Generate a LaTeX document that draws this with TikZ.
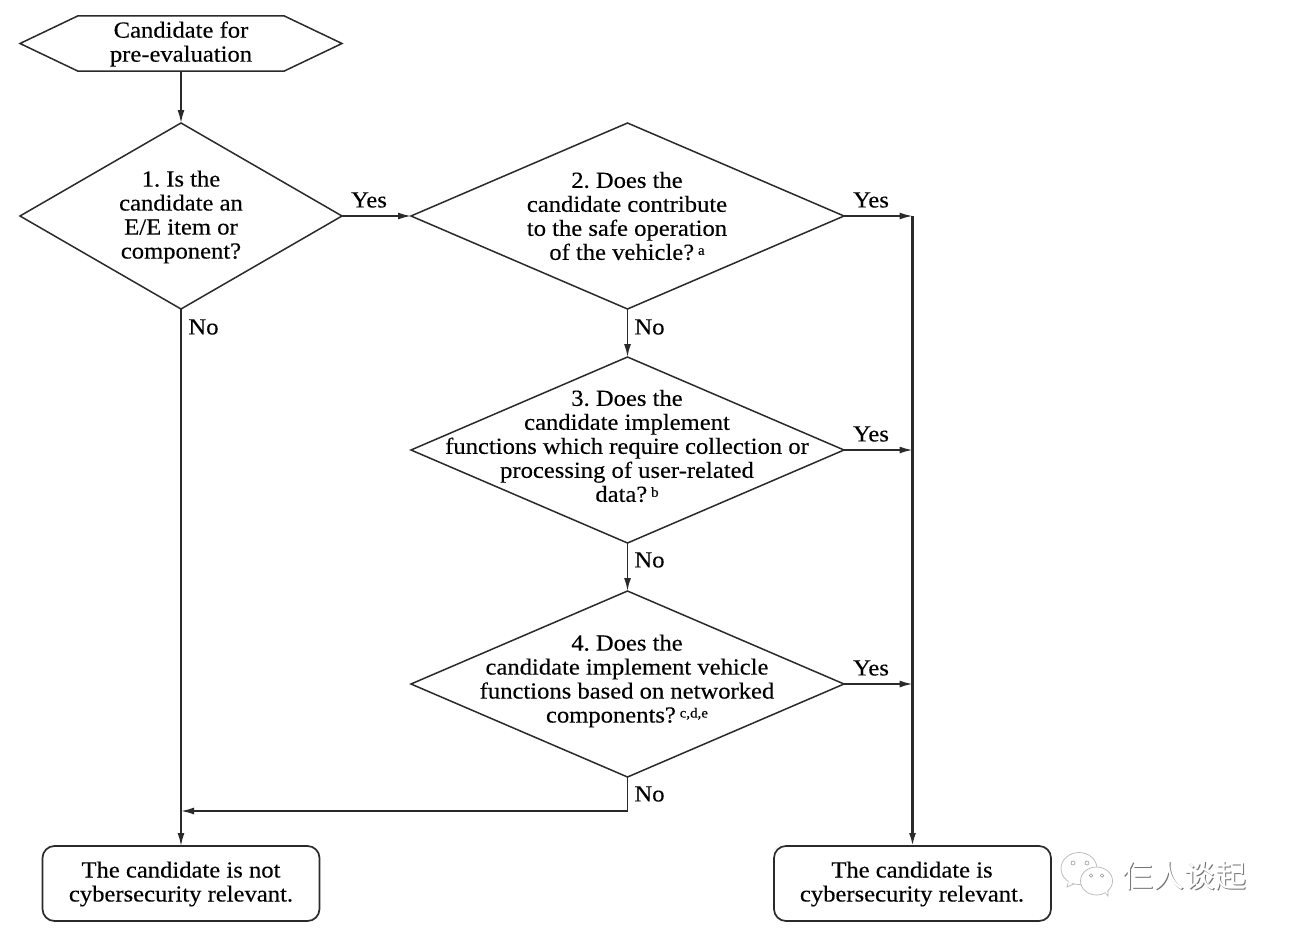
\documentclass[tikz,border=0pt]{standalone}
\usepackage{fontspec}
\setmainfont[FakeStretch=1.07,FakeBold=0.25]{Liberation Serif}
\newfontfamily\cjk{Noto Sans CJK SC}
\usetikzlibrary{shapes.geometric,shapes.symbols,arrows.meta}
\definecolor{ink}{HTML}{2A2A2A}
\frenchspacing
\tikzset{
  x=1pt,y=-1pt,
  every node/.style={inner sep=0pt,outer sep=0pt},
  dia/.style={draw=ink,line width=1.5pt,shape=diamond,minimum width=#1,minimum height=186pt,aspect=2},
  term/.style={draw=ink,line width=1.7pt,rounded corners=12pt,minimum width=277pt,minimum height=75pt},
  hexa/.style={draw=ink,line width=1.5pt,shape=signal,signal to=east and west,signal pointer angle=51,minimum width=322pt,minimum height=55pt},
  txt/.style={align=center,text=black,font=\frenchspacing\fontsize{23}{24}\selectfont},
  lab/.style={text=black,font=\fontsize{23}{24}\selectfont},
  flow/.style={draw=ink,line width=1.6pt,-{Latex[length=13pt,width=7pt]}},
  plain/.style={draw=ink,line width=1.6pt},
  trunk/.style={draw=ink,line width=2.1pt,-{Latex[length=13pt,width=7pt]}},
  bubble/.style={draw=black!28,line width=.7pt,fill=white},
  eye/.style={draw=black!40,line width=.6pt,fill=white},
}
\newcommand{\fn}[1]{\raisebox{5pt}{\fontsize{14}{14}\selectfont #1}}
\begin{document}
\begin{tikzpicture}
\useasboundingbox (0,0) rectangle (1289,934);
\fill[white] (0,0) rectangle (1289,934);

% process boxes and decisions
\node[hexa] (start) at (181,43.5) {};
\node[dia=322pt] (d1) at (181,216) {};
\node[dia=433pt] (d2) at (627.5,216) {};
\node[dia=433pt] (d3) at (627.5,450) {};
\node[dia=433pt] (d4) at (627.5,684) {};
\node[term] (notrel) at (181,883.5) {};
\node[term] (rel) at (912.5,883.5) {};

% wording inside the shapes
\node[txt] (tstart) at (181,44) {Candidate for\\pre-evaluation};
\node[txt] (t1) at (181,217) {1. Is the\\candidate an\\E/E item or\\component?};
\node[txt] (t2) at (627,216) {2. Does the\\candidate contribute\\to the safe operation\\of the vehicle?\,\fn{a}};
\node[txt] (t3) at (627,446) {3. Does the\\candidate implement\\functions which require collection or\\processing of user-related\\data?\,\fn{b}};
\node[txt] (t4) at (627,681) {4. Does the\\candidate implement vehicle\\functions based on networked\\components?\,\fn{c,d,e}};
\node[txt] (tnot) at (181,884) {The candidate is not\\cybersecurity relevant.};
\node[txt] (trel) at (912,884) {The candidate is\\cybersecurity relevant.};

% junction points on the collecting lines
\coordinate (j2) at (912.5,216);
\coordinate (j3) at (912.5,450);
\coordinate (j4) at (912.5,684);
\coordinate (c4) at (627.5,811);
\coordinate (c1) at (181,811);

% connectors
\draw[flow] (start.south) -- (d1.north);
\draw[flow] (d1.east) -- (d2.west);
\draw[flow] (d2.south) -- (d3.north);
\draw[flow] (d3.south) -- (d4.north);
\draw[flow] (d1.south) -- (notrel.north);
\draw[flow] (d2.east) -- (j2);
\draw[flow] (d3.east) -- (j3);
\draw[flow] (d4.east) -- (j4);
\draw[trunk] (j2) -- (rel.north);
\draw[plain] (d4.south) -- (c4);
\draw[flow] (c4) -- (c1);

% branch labels
\node[lab] (y1) at (369,200) {Yes};
\node[lab] (y2) at (871,200) {Yes};
\node[lab] (y3) at (871,434) {Yes};
\node[lab] (y4) at (871,668) {Yes};
\node[lab] (n1) at (203.5,327) {No};
\node[lab] (n2) at (649.5,327) {No};
\node[lab] (n3) at (649.5,560) {No};
\node[lab] (n4) at (649.5,794) {No};

% chat-bubble mark
\draw[bubble] (1069,880) -- (1067,887) -- (1076,883);
\draw[bubble] (1079,868.5) ellipse (18pt and 16pt);
\fill[white] (1069,878) -- (1068,885) -- (1076,882) -- cycle;
\fill[eye] (1073,863) circle (2pt);
\fill[eye] (1087,863) circle (2pt);
\draw[bubble] (1104,891) -- (1108,896) -- (1108,888);
\draw[bubble] (1096.5,881) ellipse (16pt and 14pt);
\fill[white] (1103,890) -- (1107,894) -- (1107,887) -- cycle;
\fill[eye] (1091,875.5) circle (1.8pt);
\fill[eye] (1102,875.5) circle (1.8pt);

% signature beside the mark
\node[font=\cjk\fontsize{31}{31}\selectfont,text=black!55] (signs) at (1185.5,877) {仨人谈起};
\node[font=\cjk\fontsize{31}{31}\selectfont,text=white] (sign) at (1184.7,876.2) {仨人谈起};
\end{tikzpicture}
\end{document}
